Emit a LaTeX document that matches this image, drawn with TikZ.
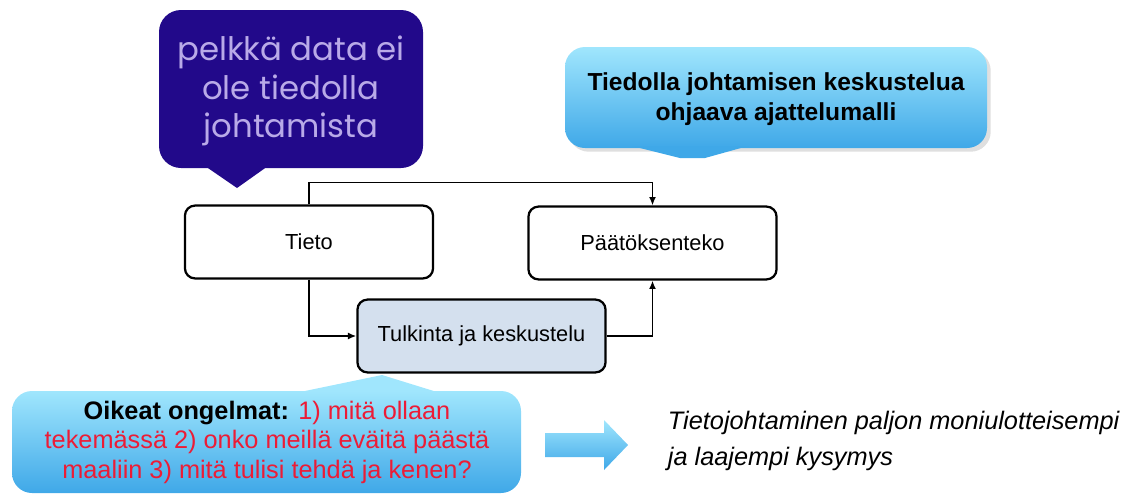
\documentclass[tikz,border=0pt]{standalone}
\usepackage{fontspec}
\setmainfont{Liberation Sans}
\newfontfamily\geofont{Poppins}
\usetikzlibrary{arrows.meta,shadows}
\definecolor{indigo}{HTML}{22098A}
\definecolor{lavender}{HTML}{B9AAE8}
\definecolor{skytop}{HTML}{A0E6FD}
\definecolor{skybot}{HTML}{3FA8E8}
\definecolor{paleblue}{HTML}{D4E0EE}
\definecolor{alert}{HTML}{EC1C36}
\begin{document}
\begin{tikzpicture}[x=0.025cm, y=-0.025cm,
box/.style={draw, line width=1.6pt, rounded corners=0.25cm, minimum width=6.2cm, minimum height=1.82cm, font=\fontsize{15.5}{18}\selectfont},
sky/.style={top color=skytop, bottom color=skybot},
>={Latex[length=6pt,width=5pt]}
]
\useasboundingbox (0,0) rectangle (1128,495);

% callouts
\fill[indigo, rounded corners=0.55cm] (159,10) rectangle (423,168);
\fill[indigo] (205,166) -- (268,166) -- (237,188) -- cycle;
\node[font=\geofont\fontsize{23}{27.5}\selectfont, text=lavender, align=center] (datanote) at (291,91) {pelkkä data ei\\ole tiedolla\\johtamista};

\path[sky, rounded corners=0.5cm, drop shadow={opacity=0.25}] (565,47) rectangle (987,148);
\fill[skybot] (632,146) -- (680,158) -- (705,158) -- (748,146) -- cycle;
\node[font=\bfseries\fontsize{17.5}{21}\selectfont, align=center] (model) at (776,99) {Tiedolla johtamisen keskustelua\\ohjaava ajattelumalli};

% flow
\node[box] (tieto) at (309,242) {Tieto};
\node[box] (paatos) at (652.5,243) {Päätöksenteko};
\node[box, fill=paleblue] (tulkinta) at (481.5,336) {Tulkinta ja keskustelu};

\draw[->, line width=1.3pt] (tieto.north) -- ++(0,-22) -| (paatos.north);
\draw[->, line width=1.3pt] (tieto.south) |- (tulkinta.west);
\draw[->, line width=1.3pt] (tulkinta.east) -| (paatos.south);

% bottom
\path[sky, rounded corners=0.5cm] (12,391) rectangle (521,493);
\fill[skytop] (300,392) -- (382,375) -- (437,392) -- cycle;
\node[font=\fontsize{18}{21}\selectfont, align=center] (issues) at (267,442) {\textbf{Oikeat ongelmat:} \textcolor{alert}{1) mitä ollaan}\\\textcolor{alert}{tekemässä 2) onko meillä eväitä päästä}\\\textcolor{alert}{maaliin 3) mitä tulisi tehdä ja kenen?}};

\path[sky] (545,433) -- (604,433) -- (604,420) -- (628,445) -- (604,470) -- (604,457) -- (545,457) -- cycle;
\node[font=\itshape\fontsize{18}{25}\selectfont, align=left, anchor=west] (summary) at (663,441) {Tietojohtaminen paljon moniulotteisempi\\ja laajempi kysymys};
\end{tikzpicture}
\end{document}
